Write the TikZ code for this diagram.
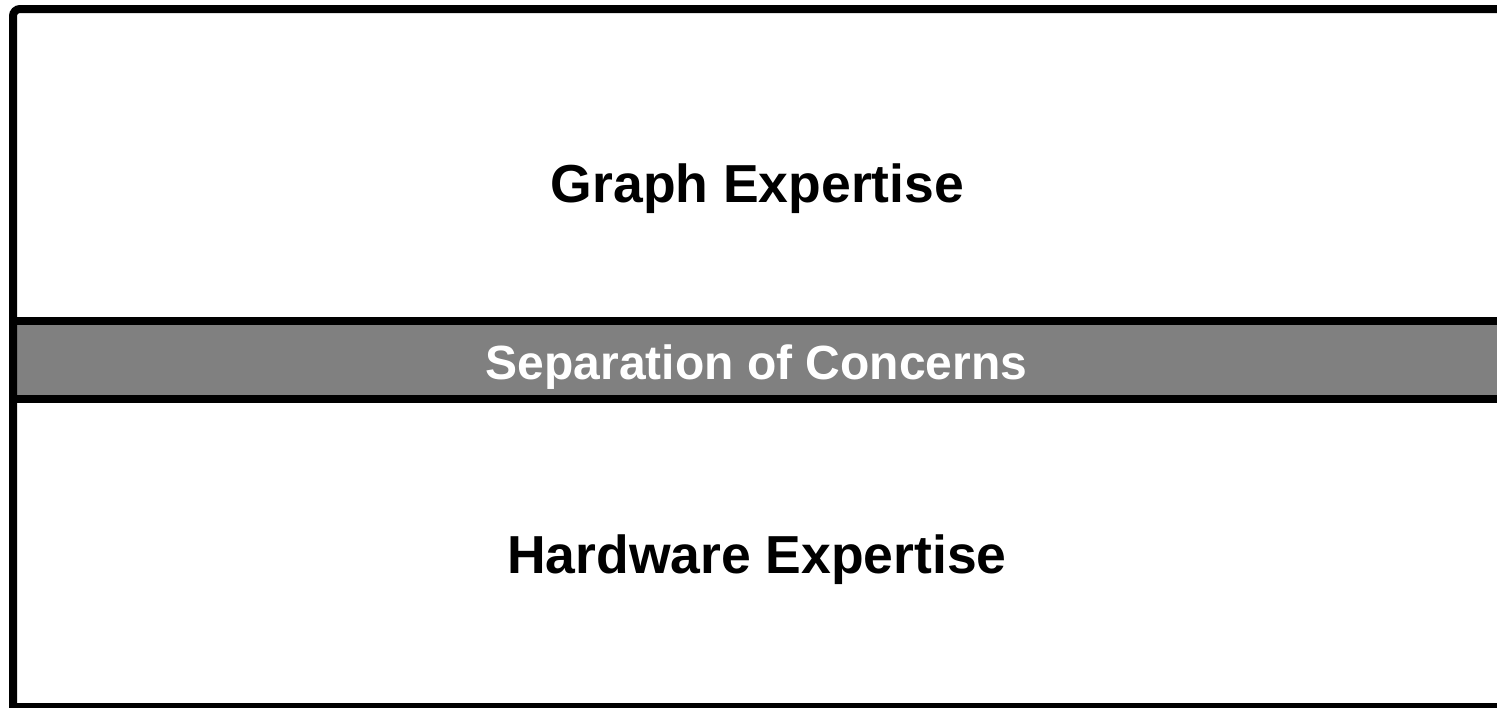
\documentclass[tikz,border=0pt]{standalone}
\usepackage{fontspec}
\setmainfont{Liberation Sans}
\definecolor{bandgray}{HTML}{808080}
\begin{document}
\begin{tikzpicture}[x=1pt,y=-1pt,
  frame/.style={draw=black, line width=8pt},
  biglabel/.style={inner sep=0pt, anchor=base, font=\fontsize{53.5}{60}\selectfont\bfseries},
  bandlabel/.style={inner sep=0pt, anchor=base, text=white, font=\fontsize{48}{54}\selectfont\bfseries}]
\useasboundingbox (0,0) rectangle (1497,707);
\clip (0,0) rectangle (1497,707);
% separation band
\fill[bandgray] (13,320.5) rectangle (1510,399);
% frame lines
\draw[frame] (13,720) [rounded corners=7pt] -- (13,9) -- (1510,9);
\draw[frame] (13,320.5) -- (1510,320.5);
\draw[frame] (13,399) -- (1510,399);
\draw[frame] (9,707) -- (1510,707);
% labels
\node[biglabel] (graph) at (757.5,202.5) {Graph Expertise};
\node[bandlabel] (soc) at (756.5,379) {Separation of Concerns};
\node[biglabel] (hw) at (757,573) {Hardware Expertise};
\end{tikzpicture}
\end{document}
